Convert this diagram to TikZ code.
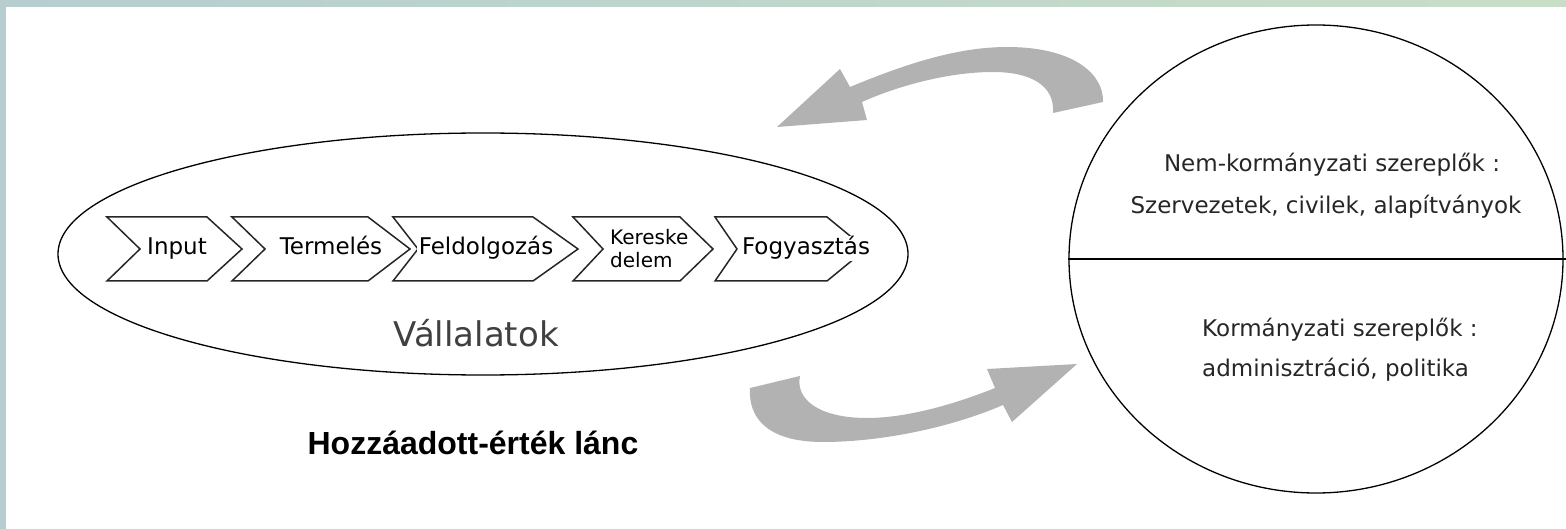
\documentclass[tikz,border=0pt]{standalone}
\usepackage{fontspec}
\setmainfont{DejaVu Sans}
\newfontfamily\arialfont{Liberation Sans}
\usetikzlibrary{shapes.geometric}
\definecolor{frameblue}{RGB}{183,205,208}
\definecolor{framegreen}{RGB}{201,222,199}
\begin{document}
\begin{tikzpicture}[x=1pt,y=-1pt,
  chaintext/.style={font=\fontsize{23}{26}\selectfont,fill=white,inner sep=1.5pt,text height=17pt,text depth=5pt},
  circletext/.style={font=\fontsize{23}{26}\selectfont,text=black!85,inner sep=0pt,text height=17pt,text depth=5pt},
  chevronline/.style={draw=black!85,line width=1.5pt,line join=miter},
  grayarrow/.style={fill=black!30,draw=none}]
\useasboundingbox (0,0) rectangle (1566,529);

% frame of the slide
\shade[left color=frameblue,right color=framegreen] (0,0) rectangle (1566,7);
\fill[frameblue] (0,0) rectangle (6,529);

\node[draw,ellipse,line width=1.3pt,minimum width=850pt,minimum height=242pt,inner sep=0pt] (vallalatok) at (483,254) {};
\node[font=\fontsize{34}{38}\selectfont,text=black!75] (vallalatoknev) at (476,333) {Vállalatok};

% this draws the chevrons of the chain

\foreach \l/\d/\r/\t in {107/33/207/242,232/33/368/410,393/25/533/578,573/30/680/713,715/22/827/866}
\draw[chevronline] (\l,217) -- (\r,217) -- (\t,249) -- (\r,281) -- (\l,281) -- ({\l+\d},249) -- cycle;

\foreach \name/\x/\txt in {input/177/Input,termeles/331/Termelés,feldolgozas/486/Feldolgozás,fogyasztas/806/Fogyasztás}
\node[chaintext] (\name) at (\x,249) {\txt};
\node[font=\fontsize{20}{23}\selectfont,align=left,fill=white,inner sep=1pt,anchor=north west] (kereskedelem) at (609,228) {Kereske\\delem};

\node[font=\arialfont\bfseries\fontsize{32}{36}\selectfont] (lanc) at (473,443) {Hozzáadott-érték lánc};

% the actors, cut by the right edge
\node[draw,ellipse,line width=1.3pt,minimum width=494pt,minimum height=468pt,inner sep=0pt] (szereplok) at (1316,259) {};
\draw[line width=2.5pt,shorten >=-6pt] (szereplok.west) -- (szereplok.east);

\node[circletext] (nemkorm) at (1332,166) {Nem-kormányzati szereplők :};
\node[circletext] (szervezetek) at (1326,208) {Szervezetek, civilek, alapítványok};
\node[circletext,anchor=west] (korm) at (1202,330) {Kormányzati szereplők :};
\node[circletext,anchor=west] (admin) at (1202,370) {adminisztráció, politika};

% the two grey arrows
\fill[grayarrow] (777,127) -- (840,69) -- (850,87)
  .. controls (910,62) and (960,47) .. (1007,47)
  .. controls (1075,47) and (1104,75) .. (1103,102) -- (1053,113)
  .. controls (1055,85) and (1030,72) .. (993,72)
  .. controls (950,72) and (900,85) .. (862,102) -- (867,120) -- cycle;
\fill[grayarrow] (750,388) -- (800,376)
  .. controls (795,400) and (820,418) .. (867,418)
  .. controls (910,418) and (960,402) .. (995,388) -- (987,369) -- (1077,364) -- (1012,422) -- (1003,405)
  .. controls (950,428) and (880,442) .. (823,442)
  .. controls (770,442) and (748,420) .. (750,388) -- cycle;

\end{tikzpicture}
\end{document}
